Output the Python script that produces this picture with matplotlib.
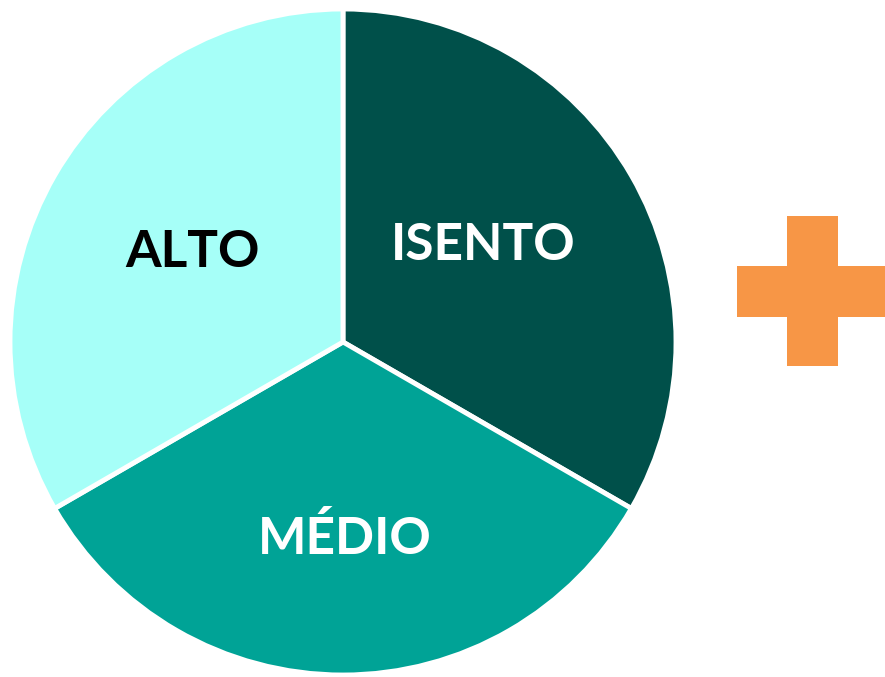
import numpy as np
import matplotlib.pyplot as plt
from matplotlib.patches import Polygon

# --- Data ---
labels = ['ISENTO', 'MÉDIO', 'ALTO']
values = [1, 1, 1]
colors = ['#00504A', '#00A396', '#A6FFF8']
text_colors = ['white', 'white', 'black']

# --- Layout (pixel coords, y up) ---
W, H = 885, 677
center = (343, H - 342)
radius = 333
# label placement: fraction of radius, angle tweak from slice middle (deg)
label_r = [0.511, 0.592, 0.524]
label_da = [4.7, 0.6, -0.7]

fig = plt.figure(figsize=(W / 100, H / 100), dpi=100)
ax = fig.add_axes([0, 0, 1, 1])

wedges, _ = ax.pie(values, colors=colors, startangle=90, counterclock=False,
                   center=center, radius=radius,
                   wedgeprops=dict(edgecolor='white', linewidth=3.5))

for w, lab, tc, fr, da in zip(wedges, labels, text_colors, label_r, label_da):
    ang = np.deg2rad((w.theta1 + w.theta2) / 2 + da)
    r = fr * radius
    ax.text(center[0] + r * np.cos(ang), center[1] + r * np.sin(ang), lab,
            ha='center', va='center', fontsize=37, fontweight='bold',
            family='Lato', color=tc)

# orange plus sign on the right
px, py, arm, half = 812, H - 291, 75, 25.5
plus = [(px - half, py + arm), (px + half, py + arm), (px + half, py + half),
        (px + arm, py + half), (px + arm, py - half), (px + half, py - half),
        (px + half, py - arm), (px - half, py - arm), (px - half, py - half),
        (px - arm, py - half), (px - arm, py + half), (px - half, py + half)]
ax.add_patch(Polygon(plus, closed=True, facecolor='#F79646', edgecolor='none'))

ax.set_xlim(0, W)
ax.set_ylim(0, H)
ax.set_aspect('auto')
ax.axis('off')

fig.savefig('out.png', dpi=100)
